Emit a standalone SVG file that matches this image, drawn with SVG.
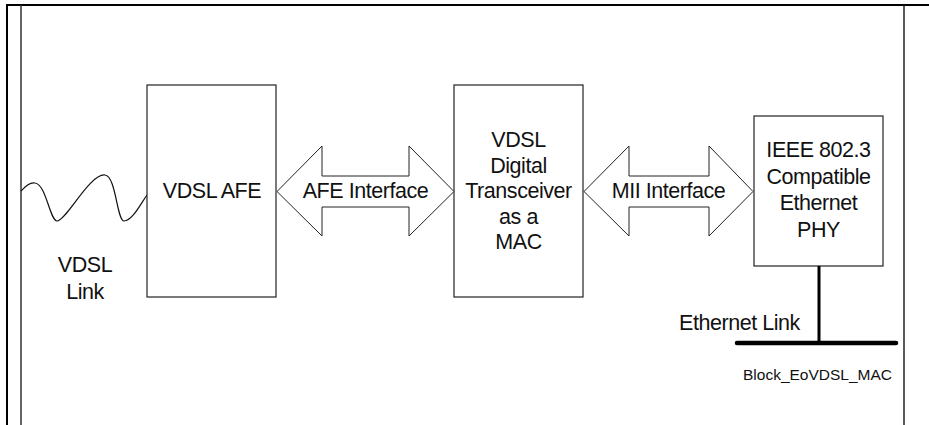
<svg xmlns="http://www.w3.org/2000/svg" width="929" height="425" viewBox="0 0 929 425">
<style>
.box{fill:#fff;stroke:#222;stroke-width:1.2}
.arrow{fill:#fff;stroke:#222;stroke-width:1}
.t{font-family:"Liberation Sans",Arial,sans-serif;font-size:21.5px;letter-spacing:-0.45px;fill:#111;text-anchor:middle}
.small{font-family:"Liberation Sans",Arial,sans-serif;font-size:15.5px;fill:#111}
</style>
<rect width="929" height="425" fill="#fff"/>
<g id="frame" fill="none" stroke="#000">
<line x1="7" y1="5" x2="929" y2="5" stroke-width="2"/>
<line x1="7" y1="4" x2="7" y2="425" stroke-width="2"/>
<line x1="21" y1="5" x2="21" y2="425" stroke-width="1.5" stroke="#333"/>
<line x1="904" y1="5" x2="904" y2="425" stroke-width="1.5" stroke="#222"/>
</g>
<g id="vdsl-link">
<path d="M21,191 C26,186 30,182 35,183 C46,184 50,221 57,221 C66,221 90,173 105,175 C116,176 117,221 124,221 C132,221 140,205 147,195" fill="none" stroke="#111" stroke-width="1.2"/>
<text class="t" x="85" y="272">VDSL</text>
<text class="t" x="85" y="299">Link</text>
</g>
<g id="vdsl-afe">
<rect class="box" x="147" y="85" width="129" height="212"/>
<text class="t" x="212" y="198">VDSL AFE</text>
</g>
<g id="transceiver">
<rect class="box" x="454" y="85" width="129" height="212"/>
<text class="t" x="518.5" y="147">VDSL</text>
<text class="t" x="518.5" y="172.5">Digital</text>
<text class="t" x="518.5" y="198">Transceiver</text>
<text class="t" x="518.5" y="223.5">as a</text>
<text class="t" x="518.5" y="249">MAC</text>
</g>
<g id="phy">
<rect class="box" x="754" y="116" width="129" height="150"/>
<text class="t" x="818.5" y="157">IEEE 802.3</text>
<text class="t" x="818.5" y="184">Compatible</text>
<text class="t" x="818.5" y="210">Ethernet</text>
<text class="t" x="818.5" y="237">PHY</text>
</g>
<g id="connectors">
<g id="afe-interface">
<path class="arrow" d="M277,191.5 L322,146 L322,176 L409,176 L409,146 L454,191.5 L409,236 L409,207 L322,207 L322,236 Z"/>
<text class="t" x="365.5" y="198">AFE Interface</text>
</g>
<g id="mii-interface">
<path class="arrow" d="M584,191.5 L629,146 L629,176 L709,176 L709,146 L753,191.5 L709,236 L709,207 L629,207 L629,236 Z"/>
<text class="t" x="668.5" y="198">MII Interface</text>
</g>
<g id="ethernet-link">
<line x1="819" y1="266" x2="819" y2="343" stroke="#000" stroke-width="3"/>
<line x1="737" y1="343" x2="896" y2="343" stroke="#000" stroke-width="4.5" stroke-linecap="round"/>
<text class="t" x="679" y="330" style="text-anchor:start">Ethernet Link</text>
</g>
</g>
<text class="small" x="743" y="380">Block_EoVDSL_MAC</text>
</svg>
